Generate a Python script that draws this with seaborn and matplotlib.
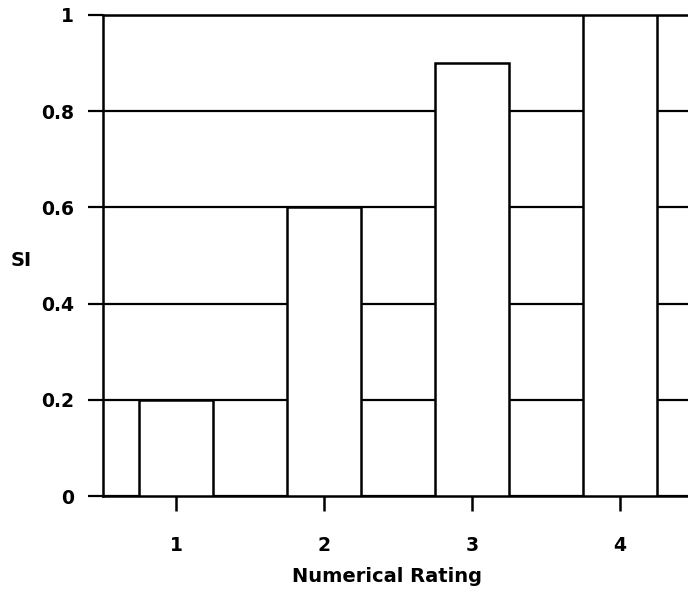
import matplotlib
matplotlib.use("Agg")
import matplotlib.pyplot as plt
import seaborn as sns
import pandas as pd

# Similarity index per numerical rating
ratings = ["1", "2", "3", "4"]
si_values = [0.2, 0.6, 0.9, 1.0]
y_ticks = [0, 0.2, 0.4, 0.6, 0.8, 1.0]
y_tick_labels = ["0", "0.2", "0.4", "0.6", "0.8", "1"]

df = pd.DataFrame({"Numerical Rating": ratings, "SI": si_values})

sns.set_style("white")
plt.rcParams["font.family"] = ["DejaVu Sans"]
plt.rcParams["font.weight"] = "bold"
plt.rcParams["text.color"] = "black"
plt.rcParams["axes.labelcolor"] = "black"
plt.rcParams["xtick.color"] = "black"
plt.rcParams["ytick.color"] = "black"

fig = plt.figure(figsize=(6.88, 5.95), dpi=100)
ax = fig.add_axes([103 / 688, 1 - 496 / 595, 1 - 103 / 688, (496 - 15) / 595])

sns.barplot(data=df, x="Numerical Rating", y="SI", order=ratings,
            color="white", edgecolor="black", linewidth=1.8, width=0.5,
            saturation=1, ax=ax, zorder=3)

ax.set_ylim(0, 1)
ax.set_xlim(-0.493, 3.46)
ax.set_yticks(y_ticks)
ax.set_yticklabels(y_tick_labels)

ax.yaxis.grid(True, color="black", linewidth=1.6)
ax.xaxis.grid(False)
ax.set_axisbelow(True)

for side in ["left", "bottom", "top"]:
    ax.spines[side].set_visible(True)
    ax.spines[side].set_color("black")
    ax.spines[side].set_linewidth(1.8)
ax.spines["right"].set_visible(False)

ax.tick_params(axis="y", direction="out", length=11, width=1.6, pad=10,
               labelsize=13.5, color="black", labelcolor="black", left=True)
ax.tick_params(axis="x", direction="out", length=11, width=1.8, pad=18,
               labelsize=13.5, color="black", labelcolor="black", bottom=True)
for lbl in ax.get_xticklabels() + ax.get_yticklabels():
    lbl.set_fontweight("bold")

ax.set_xlabel("Numerical Rating", fontsize=14, fontweight="bold", color="black")
ax.set_ylabel("SI", fontsize=14, fontweight="bold", rotation=0, color="black")
ax.xaxis.set_label_coords(0.485, -0.148)
ax.yaxis.set_label_coords(-0.14, 0.49)
ax.yaxis.label.set_verticalalignment("center")
ax.yaxis.label.set_horizontalalignment("center")

fig.savefig("out.png", dpi=100, facecolor="white")
